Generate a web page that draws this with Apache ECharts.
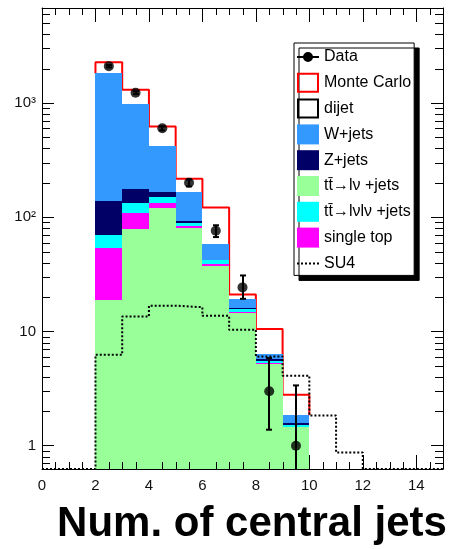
<!DOCTYPE html>
<html><head><meta charset="utf-8">
<script src="https://cdn.jsdelivr.net/npm/echarts@6/dist/echarts.min.js"></script>
<style>html,body{margin:0;padding:0;background:#fff}#c{width:449px;height:549px}</style>
</head><body><div id="c"></div>
<script>
// ---- data (bins of width 1, lower edges) ----
const binLow    = [2, 3, 4, 5, 6, 7, 8, 9];
const ttLjets   = [18.7, 79.6, 120, 80, 37.6, 14.5, 5.15, 1.46];
const singleTop = [35, 29.4, 13, 4, 1.0, 0.3, 0.1, 0.01];
const ttDilep   = [16.3, 23, 16, 5, 3.4, 1.0, 0.3, 0.05];
const zJets     = [69, 44, 18, 4, 0.3, 0.2, 0.15, 0.06];
const wJets     = [1684, 800, 257, 73, 16.4, 3.4, 0.7, 0.27];
const dijet     = [453, 327, 198, 51, 63, 1.7, 4.1, 0.94];

const dataX  = [2.5, 3.5, 4.5, 5.5, 6.5, 7.5, 8.5, 9.5];
const dataY  = [2100, 1230, 600, 200, 76, 24.3, 3.0, 1.0];
const dataLo = [2050, 1195, 575, 186, 67, 19.3, 1.38, 0.3];
const dataHi = [2150, 1265, 625, 214, 85, 30.9, 5.85, 3.37];

const su4Low = [2, 3, 4, 5, 6, 7, 8, 9, 10, 11];
const su4    = [6.25, 13.5, 16.8, 16.3, 13.7, 10.35, 6.04, 4.1, 1.84, 0.87];

const xTickLabels = ['0', '2', '4', '6', '8', '10', '12', '14'];
const yTickLabels = {1: '1', 10: '10', 100: '10²', 1000: '10³'};

// ---- layout / style ----
const X_MIN = 0, X_MAX = 15, Y_MIN = 0.625, Y_MAX = 6780;
const FONT = "'Liberation Sans', Arial, Helvetica, sans-serif";

const layers = [
  {name: 'tt̄→lν +jets',   vals: ttLjets,   color: '#99ff99'},
  {name: 'single top',     vals: singleTop, color: '#ff00ff'},
  {name: 'tt̄→lνlν +jets', vals: ttDilep,   color: '#00ffff'},
  {name: 'Z+jets',         vals: zJets,     color: '#000066'},
  {name: 'W+jets',         vals: wJets,     color: '#3399ff'},
  {name: 'dijet',          vals: dijet,     color: '#ffffff'}
];

function rectItem(params, api) {
  const x0 = api.value(0), b = api.value(1), t = api.value(2);
  const pa = api.coord([x0, b > Y_MIN ? b : Y_MIN]);
  const pb = api.coord([x0 + 1, t]);
  const L = Math.round(pa[0]), R = Math.round(pb[0]);
  const B = Math.round(pa[1]), T = Math.round(pb[1]);
  if (B - T <= 0) return null;
  return {type: 'rect', shape: {x: L, y: T, width: R - L, height: B - T},
          style: {fill: api.visual('color')}};
}

const cum = binLow.map(() => 0);
let visTop = null;
const stackSeries = layers.map(L => {
  if (L.name === 'dijet') visTop = cum.slice();
  const data = binLow.map((x, i) => { const b = cum[i]; cum[i] += L.vals[i]; return [x, b, cum[i]]; });
  return {type: 'custom', name: L.name, coordinateSystem: 'cartesian2d', clip: true,
          z: L.name === 'dijet' ? 1 : 3, itemStyle: {color: L.color},
          encode: {x: 0, y: 2}, data: data, renderItem: rectItem, silent: true};
});
const total = cum.slice();
const nb = binLow.length;

// MC total outline: outer verticals only down to the top of the filled stack
const mcPts = [[binLow[0], visTop[0]]]
  .concat(binLow.map((x, i) => [x, total[i]]))
  .concat([[binLow[nb - 1] + 1, visTop[nb - 1]]]);

const su4Pts = [[X_MIN, Y_MIN]]
  .concat(su4Low.map((x, i) => [x, su4[i]]))
  .concat([[su4Low[su4Low.length - 1] + 1, Y_MIN], [X_MAX, Y_MIN]]);

// minor ticks
const minorTicks = [];
for (let v = 0.5; v < X_MAX; v += 0.5) if (v % 2 !== 0) minorTicks.push([0, v]);
for (let d = 0.1; d < Y_MAX; d *= 10) for (let k = 2; k <= 9; k++) {
  const v = d * k; if (v > Y_MIN && v < Y_MAX) minorTicks.push([1, v]);
}

const chart = echarts.init(document.getElementById('c'), null, {renderer: 'canvas'});

const xAxisBase = {
  type: 'value', min: X_MIN, max: X_MAX, interval: 2,
  axisLine: {show: true, onZero: false, lineStyle: {color: '#000', width: 1}},
  axisTick: {show: true, inside: true, length: 14, lineStyle: {color: '#000', width: 1}},
  minorTick: {show: false}, splitLine: {show: false}, minorSplitLine: {show: false}
};
const yAxisBase = {
  type: 'log', logBase: 10, min: Y_MIN, max: Y_MAX,
  axisLine: {show: true, onZero: false, lineStyle: {color: '#000', width: 1}},
  axisTick: {show: true, inside: true, length: 12, lineStyle: {color: '#000', width: 1}},
  minorTick: {show: false}, splitLine: {show: false}, minorSplitLine: {show: false}
};

const box = 'M0,0h0.01v0.01h-0.01Z M21.99,19.99h0.01v0.01h-0.01Z ';
const dataIcon = 'path://' + box + 'M0,9H22V11H0Z M6,10A5,5,0,1,1,16,10A5,5,0,1,1,6,10Z';
let dots = ''; for (let i = 0; i < 22; i += 4) dots += 'M' + i + ',9h2v2h-2Z ';
const su4Icon = 'path://' + box + dots;
const hollowIcon = 'path://M0,0H22V20H0Z M2,2V18H20V2Z';

const option = {
  animation: false,
  backgroundColor: '#fff',
  textStyle: {fontFamily: FONT},
  grid: {left: 42, right: 6, top: 8, bottom: 80, containLabel: false, outerBoundsMode: 'none'},
  xAxis: [
    Object.assign({}, xAxisBase, {
      position: 'bottom',
      axisLabel: {show: true, margin: 9, fontSize: 15, color: '#111', fontFamily: FONT,
                  showMaxLabel: false,
                  formatter: v => { const s = String(Math.round(v)); return xTickLabels.indexOf(s) >= 0 ? s : ''; }},
      name: 'Num. of central jets', nameLocation: 'middle', nameGap: 55,
      nameTextStyle: {fontSize: 42, fontWeight: 'bold', color: '#000', fontFamily: FONT,
                      verticalAlign: 'middle', padding: [0, 0, 0, 19]}
    }),
    Object.assign({}, xAxisBase, {position: 'top', axisLabel: {show: false}})
  ],
  yAxis: [
    Object.assign({}, yAxisBase, {
      position: 'left',
      axisLabel: {show: true, margin: 6, fontSize: 15, color: '#111', fontFamily: FONT,
                  showMinLabel: false, showMaxLabel: false,
                  formatter: v => yTickLabels[Math.round(v)] || ''}
    }),
    Object.assign({}, yAxisBase, {position: 'right', axisLabel: {show: false}})
  ],
  legend: {
    orient: 'vertical', left: 294, top: 43,
    padding: [4, 3, 2, 3], itemGap: 5.8, itemWidth: 22, itemHeight: 20,
    selectedMode: false,
    backgroundColor: '#fff', borderColor: '#000', borderWidth: 1, borderRadius: 0,
    shadowColor: '#000', shadowOffsetX: 5, shadowOffsetY: 5, shadowBlur: 0,
    textStyle: {fontSize: 16, color: '#000', fontFamily: FONT},
    data: [
      {name: 'Data', icon: dataIcon, itemStyle: {color: '#000', borderWidth: 0}},
      {name: 'Monte Carlo', icon: hollowIcon, itemStyle: {color: '#ff0000', borderWidth: 0}},
      {name: 'dijet', icon: hollowIcon, itemStyle: {color: '#000', borderWidth: 0}},
      {name: 'W+jets', icon: 'rect', itemStyle: {color: '#3399ff', borderWidth: 0}},
      {name: 'Z+jets', icon: 'rect', itemStyle: {color: '#000066', borderWidth: 0}},
      {name: 'tt̄→lν +jets', icon: 'rect', itemStyle: {color: '#99ff99', borderWidth: 0}},
      {name: 'tt̄→lνlν +jets', icon: 'rect', itemStyle: {color: '#00ffff', borderWidth: 0}},
      {name: 'single top', icon: 'rect', itemStyle: {color: '#ff00ff', borderWidth: 0}},
      {name: 'SU4', icon: su4Icon, itemStyle: {color: '#000', borderWidth: 0}}
    ]
  },
  series: [
    {type: 'line', name: 'Monte Carlo', step: 'end', data: mcPts, symbol: 'none', z: 2,
     lineStyle: {color: '#ff0000', width: 2}, itemStyle: {color: '#ff0000'}, silent: true}
  ].concat(stackSeries).concat([
    {type: 'line', name: 'SU4', step: 'end', data: su4Pts, symbol: 'none', z: 4,
     lineStyle: {color: '#000', width: 2, type: [2, 2], cap: 'butt'}, itemStyle: {color: '#000'}, silent: true},
    {type: 'custom', name: 'Data', coordinateSystem: 'cartesian2d', clip: true, z: 5, silent: true,
     itemStyle: {color: '#000'},
     data: dataX.map((x, i) => [x, dataLo[i], dataHi[i]]),
     encode: {x: 0, y: 2},
     renderItem: function (params, api) {
       const x = api.value(0);
       const pl = api.coord([x, api.value(1)]), ph = api.coord([x, api.value(2)]);
       const cx = Math.round(pl[0]);
       const st = {stroke: '#000', lineWidth: 2};
       return {type: 'group', children: [
         {type: 'line', shape: {x1: cx, y1: pl[1], x2: cx, y2: ph[1]}, style: st},
         {type: 'line', shape: {x1: cx - 3, y1: pl[1], x2: cx + 3, y2: pl[1]}, style: st},
         {type: 'line', shape: {x1: cx - 3, y1: ph[1], x2: cx + 3, y2: ph[1]}, style: st}
       ]};
     }},
    {type: 'scatter', name: 'Data', data: dataX.map((x, i) => [x, dataY[i]]), z: 6, silent: true,
     symbol: 'circle', symbolSize: 10, itemStyle: {color: '#000'}},
    {type: 'custom', name: 'minorTicks', coordinateSystem: 'cartesian2d', clip: false, z: 7, silent: true,
     data: minorTicks, encode: {x: 1, y: 1},
     renderItem: function (params, api) {
       const cs = params.coordSys;
       const kind = api.value(0), v = api.value(1);
       const st = {stroke: '#000', lineWidth: 1};
       if (kind === 0) {
         const x = Math.round(api.coord([v, Y_MIN])[0]) + 0.5;
         const y0 = cs.y, y1 = cs.y + cs.height;
         return {type: 'group', children: [
           {type: 'line', shape: {x1: x, y1: y1, x2: x, y2: y1 - 7}, style: st},
           {type: 'line', shape: {x1: x, y1: y0, x2: x, y2: y0 + 7}, style: st}
         ]};
       } else {
         const y = Math.round(api.coord([X_MIN, v])[1]) + 0.5;
         const x0 = cs.x, x1 = cs.x + cs.width;
         return {type: 'group', children: [
           {type: 'line', shape: {x1: x0, y1: y, x2: x0 + 8, y2: y}, style: st},
           {type: 'line', shape: {x1: x1, y1: y, x2: x1 - 8, y2: y}, style: st}
         ]};
       }
     }}
  ])
};
chart.setOption(option);
</script>
</body></html>
